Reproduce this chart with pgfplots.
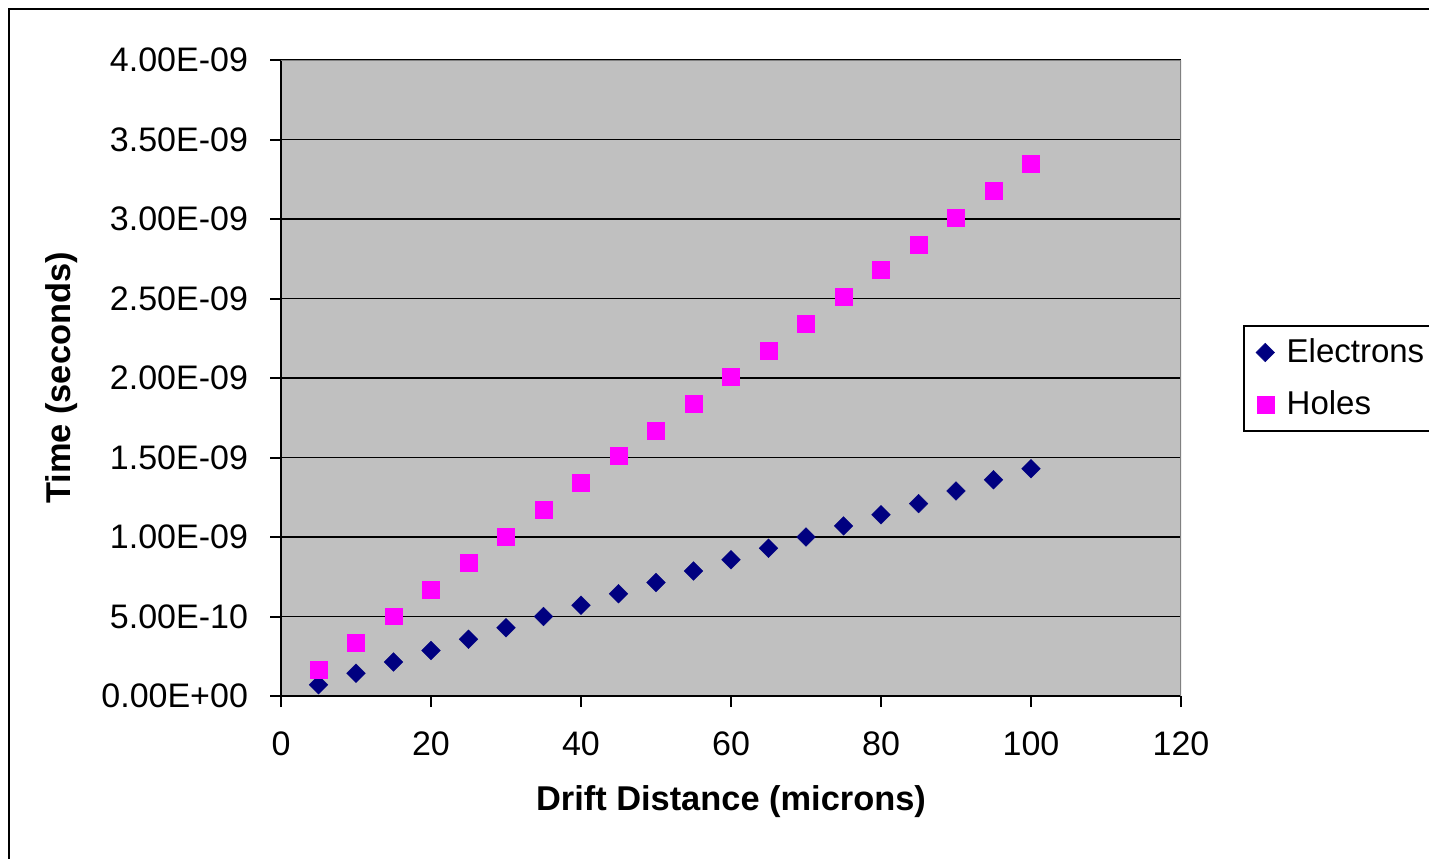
\documentclass[border=0pt]{standalone}
\usepackage{pgfplots}
\pgfplotsset{compat=1.18}
\usepackage{fontspec}
\setmainfont{Liberation Sans}
\definecolor{plotgray}{HTML}{C0C0C0}
\definecolor{framegray}{HTML}{808080}
\definecolor{electron}{HTML}{000080}
\definecolor{hole}{HTML}{FF00FF}

\begin{document}
\begin{tikzpicture}
\useasboundingbox (0,0) rectangle (714.5pt,-429pt);
% chart frame
\draw[line width=1pt] (4.5pt,-440pt) -- (4.5pt,-4.3pt) -- (730pt,-4.3pt);
\begin{axis}[
  at={(140.5pt,-348pt)}, anchor=south west,
  scale only axis, width=450pt, height=318pt,
  xmin=0, xmax=120, ymin=0, ymax=4e-9,
  xtick={0,20,40,60,80,100,120},
  ytick={0,5e-10,1e-9,1.5e-9,2e-9,2.5e-9,3e-9,3.5e-9,4e-9},
  yticklabels={0.00E+00,5.00E-10,1.00E-09,1.50E-09,2.00E-09,2.50E-09,3.00E-09,3.50E-09,4.00E-09},
  scaled y ticks=false,
  axis lines*=left,
  axis line style={black, line width=1pt},
  tick align=outside, major tick length=5.5pt,
  tick style={black, line width=1pt},
  ymajorgrids, grid style={black, line width=0.9pt},
  axis background/.style={fill=plotgray},
  /pgf/number format/assume math mode=true,
  tick label style={font=\fontsize{17}{20}\selectfont},
  yticklabel style={xshift=-7.5pt},
  xticklabel style={yshift=-9pt},
  xlabel={Drift Distance (microns)},
  ylabel={Time (seconds)},
  label style={font=\bfseries\fontsize{17.2}{20}\selectfont},
  xlabel style={at={(0.5,-0.1667)}, anchor=center},
  ylabel style={at={(-0.2433,0.5)}, anchor=center},
  legend style={at={(1.0689,0.5833)}, anchor=north west, draw=black,
    line width=1pt, fill=white, font=\fontsize{16.5}{20}\selectfont,
    inner xsep=6pt, inner ysep=4.5pt, row sep=8.5pt,
    legend cell align=left},
]
\addplot[only marks, mark=square*, mark size=3.3pt,
  mark options={rotate=45, fill=electron, draw=electron, line width=0.2pt}]
  coordinates {
  (5,7.1e-11) (10,1.43e-10) (15,2.14e-10) (20,2.86e-10) (25,3.57e-10)
  (30,4.29e-10) (35,5.00e-10) (40,5.71e-10) (45,6.43e-10) (50,7.14e-10)
  (55,7.86e-10) (60,8.57e-10) (65,9.29e-10) (70,1.00e-9) (75,1.07e-9)
  (80,1.14e-9) (85,1.21e-9) (90,1.29e-9) (95,1.36e-9) (100,1.43e-9)
  };
\addlegendentry{\hspace*{4pt}\makebox[75pt][l]{Electrons}}
\addplot[only marks, mark=square*, mark size=4.2pt,
  mark options={fill=hole, draw=hole, line width=0.2pt}]
  coordinates {
  (5,1.67e-10) (10,3.35e-10) (15,5.02e-10) (20,6.69e-10) (25,8.36e-10)
  (30,1.00e-9) (35,1.17e-9) (40,1.34e-9) (45,1.51e-9) (50,1.67e-9)
  (55,1.84e-9) (60,2.01e-9) (65,2.17e-9) (70,2.34e-9) (75,2.51e-9)
  (80,2.68e-9) (85,2.84e-9) (90,3.01e-9) (95,3.18e-9) (100,3.35e-9)
  };
\addlegendentry{\hspace*{4pt}Holes}
% grey border on the top and right of the plot area
\draw[framegray, line width=1pt] (rel axis cs:0,1) -- (rel axis cs:1,1) -- (rel axis cs:1,0);
\end{axis}
\end{tikzpicture}
\end{document}
